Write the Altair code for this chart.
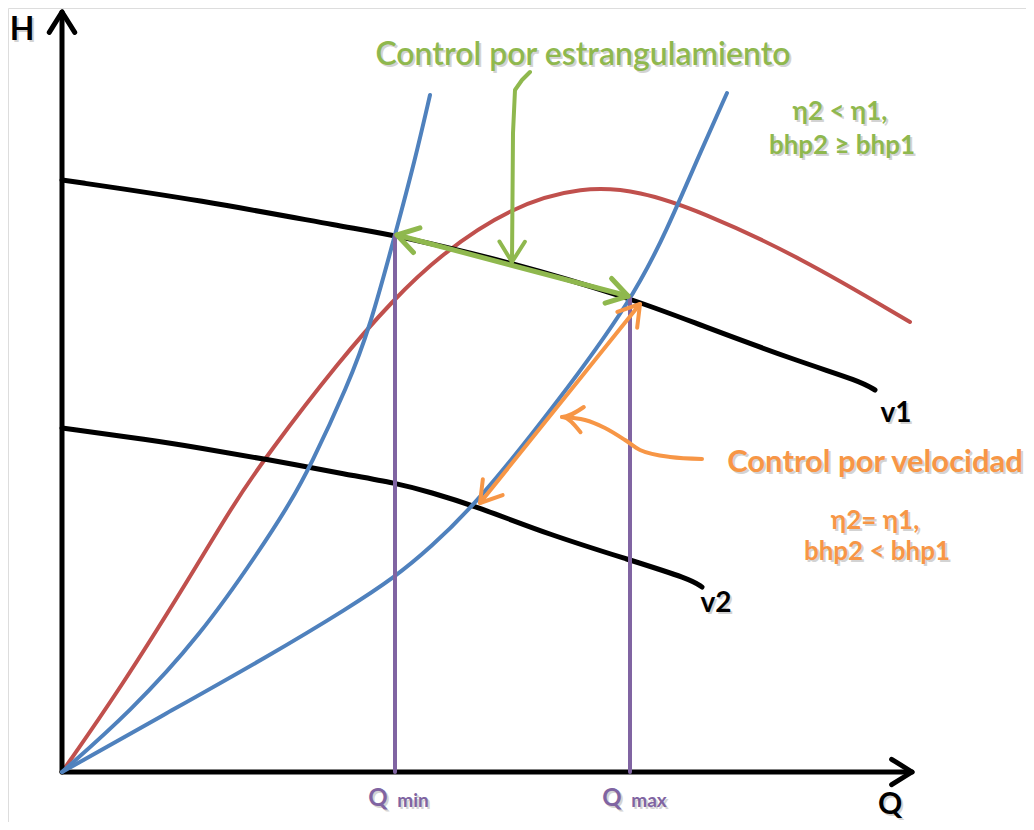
import altair as alt
import pandas as pd
import numpy as np

# ---- curves in (Q, H) units ----
v1_q = [0, 138, 288, 333, 448, 568, 638, 738, 798, 813]
v1_h = [592, 572, 544, 537, 510, 474, 447, 410, 391, 382]
v2_q = [0, 88, 138, 203, 288, 333, 368, 416, 488, 568, 628, 640]
v2_h = [344, 332, 324, 313, 297, 289, 280, 265, 237, 212, 193, 185]
eff_q = [0, 58, 125, 171, 205, 278, 331, 378, 448, 521, 578, 638, 738, 848]
eff_h = [0, 83, 190, 267, 317, 412, 472, 517, 565, 586, 581, 561, 515, 450]
sys1_q = [0, 68, 138, 198, 228, 248, 286, 308, 333, 353, 368]
sys1_h = [0, 60, 136, 222, 269, 305, 387, 445, 537, 612, 677]
sys2_q = [0, 105, 205, 288, 333, 368, 415, 495, 570, 605, 638, 665]
sys2_h = [0, 59, 115, 165, 195, 224, 269, 369, 472, 542, 619, 679]

q_min, q_max = 333, 568
h_at_qmin, h_at_qmax = 537, 474

# annotation paths
green_arrow = [(335, 537), (566, 476)]
green_pointer = [(468, 700), (460, 692), (453, 682), (451, 639), (450, 510)]
orange_arrow = [(418, 269), (578, 468)]
orange_pointer = [(640, 313), (608, 315), (578, 322), (563, 332), (543, 344), (523, 352), (500, 355)]
y_axis = [(0, 0), (0, 760)]
x_axis = [(0, 0), (850, 0)]

BLACK = "#000000"
RED = "#C0504D"
BLUE = "#4F81BD"
PURPLE = "#8064A2"
GREEN = "#8FB84E"
ORANGE = "#F79646"


def head(tip, frm, L=24, ang=32):
    tip = np.array(tip, float)
    u = np.array(frm, float) - tip
    u = u / np.linalg.norm(u)
    out = []
    for s in (1, -1):
        a = np.radians(s * ang)
        r = np.array([u[0] * np.cos(a) - u[1] * np.sin(a), u[0] * np.sin(a) + u[1] * np.cos(a)])
        out.append(tuple(tip + L * r))
    return [out[0], tuple(tip), out[1]]


rows_smooth = []
def add_smooth(name, qs, hs, color, width):
    for i, (q, h) in enumerate(zip(qs, hs)):
        rows_smooth.append(dict(id=name, Q=q, H=h, o=i, c=color, w=width))

add_smooth("eff", eff_q, eff_h, RED, 4)
add_smooth("v1", v1_q, v1_h, BLACK, 5)
add_smooth("v2", v2_q, v2_h, BLACK, 5)
add_smooth("sys1", sys1_q, sys1_h, BLUE, 4)
add_smooth("sys2", sys2_q, sys2_h, BLUE, 4)

rows_lin = []
def add_lin(name, pts, color, width):
    for i, (q, h) in enumerate(pts):
        rows_lin.append(dict(id=name, Q=q, H=h, o=i, c=color, w=width))

add_lin("yaxis", y_axis, BLACK, 5)
add_lin("yhead", head(y_axis[1], y_axis[0]), BLACK, 5)
add_lin("xaxis", x_axis, BLACK, 5)
add_lin("xhead", head(x_axis[1], x_axis[0]), BLACK, 5)
add_lin("qmin", [(q_min, 0), (q_min, h_at_qmin)], PURPLE, 4)
add_lin("qmax", [(q_max, 0), (q_max, h_at_qmax)], PURPLE, 4)
add_lin("garrow", green_arrow, GREEN, 5)
add_lin("gh1", head(green_arrow[0], green_arrow[1]), GREEN, 5)
add_lin("gh2", head(green_arrow[1], green_arrow[0]), GREEN, 5)
add_lin("gptr", green_pointer, GREEN, 4)
add_lin("gptrh", head(green_pointer[-1], green_pointer[-2]), GREEN, 4)
add_lin("oarrow", orange_arrow, ORANGE, 4)
add_lin("oh1", head(orange_arrow[0], orange_arrow[1]), ORANGE, 4)
add_lin("oh2", head(orange_arrow[1], orange_arrow[0]), ORANGE, 4)
add_lin("optr", orange_pointer, ORANGE, 4)
add_lin("optrh", head(orange_pointer[-1], orange_pointer[-2]), ORANGE, 4)

smooth_df = pd.DataFrame(rows_smooth)
lin_df = pd.DataFrame(rows_lin)

# ---- texts ----
txt_text = ["H", "Q", "v1", "v2", "Control por estrangulamiento", "η2 < η1,", "bhp2 ≥ bhp1",
            "Control por velocidad", "η2= η1,", "bhp2 < bhp1", "Q", "min", "Q", "max"]
txt_q = [-40, 828, 834, 654, 521, 778, 780, 813, 813, 815, 316, 351, 550, 587]
txt_h = [742, -33, 358, 168, 717, 660, 626, 309, 251, 220, -27, -29, -27, -29]
txt_color = [BLACK, BLACK, BLACK, BLACK, GREEN, GREEN, GREEN, ORANGE, ORANGE, ORANGE,
             PURPLE, PURPLE, PURPLE, PURPLE]
txt_size = [32, 30, 28, 28, 32, 26, 26, 31, 26, 26, 24, 19, 24, 19]
txt_bold = [True, True, True, True, False, True, True, True, True, True, True, True, True, True]
text_df = pd.DataFrame(dict(t=txt_text, Q=txt_q, H=txt_h, c=txt_color, s=txt_size, b=txt_bold))

xs = alt.Scale(domain=[-54, 964], nice=False, zero=False)
ys = alt.Scale(domain=[-50, 764], nice=False, zero=False)


def line_layer(df, ids, interp):
    return alt.Chart(df[df.id.isin(ids)]).mark_line(interpolate=interp, strokeCap="round", strokeJoin="round").encode(
        x=alt.X("Q:Q", scale=xs, axis=None),
        y=alt.Y("H:Q", scale=ys, axis=None),
        detail="id:N",
        order="o:Q",
        color=alt.Color("c:N", scale=None),
        strokeWidth=alt.StrokeWidth("w:Q", scale=None),
    )


def text_layer(df, bold, shadow=False):
    d = df[df.b == bold]
    mk = dict(font="Lato", fontWeight="bold" if bold else 600, align="center", baseline="middle")
    if shadow:
        return alt.Chart(d).mark_text(dx=2, dy=2, opacity=0.25, color="#555555", **mk).encode(
            x=alt.X("Q:Q", scale=xs, axis=None), y=alt.Y("H:Q", scale=ys, axis=None),
            text="t:N", size=alt.Size("s:Q", scale=None))
    return alt.Chart(d).mark_text(**mk).encode(
        x=alt.X("Q:Q", scale=xs, axis=None), y=alt.Y("H:Q", scale=ys, axis=None),
        text="t:N", size=alt.Size("s:Q", scale=None), color=alt.Color("c:N", scale=None))


chart = alt.layer(
    line_layer(smooth_df, ["eff"], "basis"),
    line_layer(smooth_df, ["v1", "v2"], "basis"),
    line_layer(lin_df, ["yaxis", "yhead", "xaxis", "xhead"], "linear"),
    line_layer(smooth_df, ["sys1", "sys2"], "basis"),
    line_layer(lin_df, ["qmin", "qmax"], "linear"),
    line_layer(lin_df, ["garrow", "gh1", "gh2", "gptr", "gptrh"], "linear"),
    line_layer(lin_df, ["oarrow", "oh1", "oh2"], "linear"),
    line_layer(lin_df, ["optr", "optrh"], "monotone"),
    text_layer(text_df, True, shadow=True),
    text_layer(text_df, False, shadow=True),
    text_layer(text_df, True),
    text_layer(text_df, False),
).properties(
    width=1018, height=814, padding=0, autosize=alt.AutoSizeParams(type="none")
).configure_view(stroke=None).configure(background="white")

chart.save("out.html", embed_options={"renderer": "svg", "actions": False})
